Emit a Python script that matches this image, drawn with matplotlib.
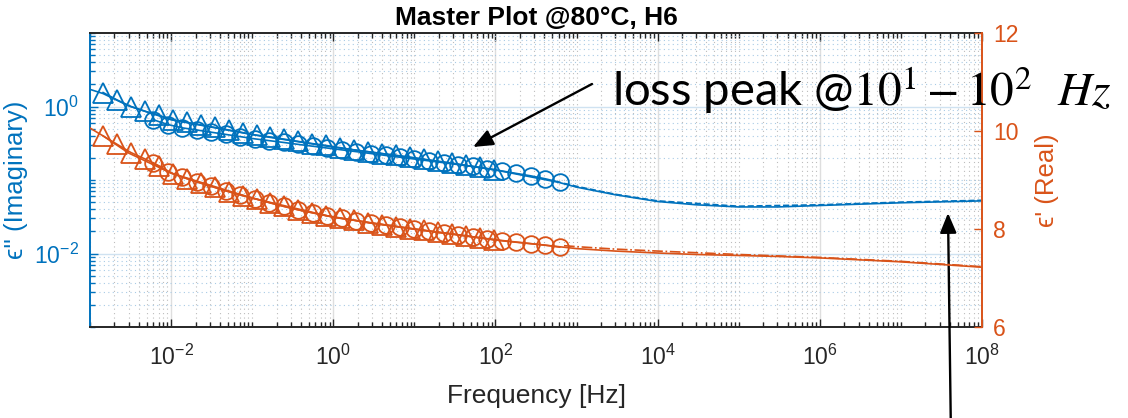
import numpy as np
import matplotlib
matplotlib.use("Agg")
from matplotlib import pyplot as plt
from matplotlib import ticker

plt.rcParams['font.family'] = ['Liberation Sans', 'DejaVu Sans']

BLUE = '#0072BD'
ORANGE = '#D95319'
DARK = '#262626'

# measured points, first set (triangles)
tri_freq = [0.00145, 0.00215, 0.0032, 0.00476, 0.00707, 0.0105, 0.0156, 0.0232, 0.0345,
            0.0513, 0.0762, 0.113, 0.168, 0.250, 0.372, 0.553, 0.821, 1.22, 1.81, 2.70,
            4.01, 5.96, 8.85, 13.2, 19.6, 29.1, 43.2, 64.2, 95.5]
tri_imag = [1.55, 1.23, 1.00, 0.861, 0.759, 0.661, 0.610, 0.562, 0.519, 0.479, 0.442,
            0.407, 0.385, 0.359, 0.335, 0.313, 0.295, 0.275, 0.257, 0.243, 0.229, 0.216,
            0.204, 0.191, 0.180, 0.170, 0.158, 0.148, 0.138]
tri_real = [9.90, 9.73, 9.56, 9.43, 9.29, 9.13, 9.03, 8.94, 8.85, 8.76, 8.68, 8.61, 8.53,
            8.46, 8.39, 8.33, 8.27, 8.22, 8.18, 8.13, 8.09, 8.05, 8.01, 7.97, 7.93, 7.90,
            7.86, 7.82, 7.78]

# measured points, second set (circles)
circ_freq = [0.00603, 0.0091, 0.0137, 0.0207, 0.0313, 0.0473, 0.0714, 0.108, 0.163,
             0.246, 0.372, 0.561, 0.847, 1.28, 1.93, 2.92, 4.41, 6.65, 10.0, 15.2, 22.9,
             34.6, 52.2, 78.9, 119, 180, 272, 410, 619]
circ_imag = [0.661, 0.569, 0.513, 0.479, 0.447, 0.417, 0.389, 0.363, 0.343, 0.324, 0.305,
             0.288, 0.272, 0.257, 0.243, 0.229, 0.216, 0.204, 0.193, 0.182, 0.172, 0.162,
             0.153, 0.143, 0.133, 0.123, 0.114, 0.104, 0.0933]
circ_real = [9.35, 9.17, 9.06, 8.96, 8.87, 8.78, 8.70, 8.62, 8.54, 8.46, 8.39, 8.33, 8.27,
             8.22, 8.17, 8.12, 8.08, 8.04, 8.00, 7.96, 7.92, 7.88, 7.84, 7.80, 7.76, 7.73,
             7.70, 7.67, 7.63]

# master curve (fit) over the whole range
fit_freq = [1e-3, 1.45e-3, 3e-3, 1e-2, 1e-1, 1e0, 1e1, 1e2, 6e2, 1e3, 3e3, 1e4, 3e4,
            1e5, 3e5, 1e6, 1e7, 1e8]
fit_imag = [1.71, 1.50, 1.02, 0.66, 0.415, 0.28, 0.20, 0.137, 0.093, 0.080, 0.063, 0.051,
            0.046, 0.043, 0.043, 0.045, 0.049, 0.052]
fit_real = [10.06, 9.90, 9.55, 9.14, 8.63, 8.24, 8.00, 7.78, 7.64, 7.60, 7.55, 7.51, 7.48,
            7.46, 7.44, 7.41, 7.33, 7.22]

# second fit, high frequency part only
fit2_freq = [7e2, 1e3, 3e3, 1e4, 1e5, 1e6, 1e7, 1e8]
fit2_imag = [0.090, 0.082, 0.064, 0.052, 0.044, 0.046, 0.050, 0.053]
fit2_real = [7.66, 7.64, 7.59, 7.55, 7.48, 7.42, 7.34, 7.23]

x_major = [1e-2, 1e0, 1e2, 1e4, 1e6, 1e8]
y_major = [1e-2, 1e0]
real_ticks = [6, 8, 10, 12]

fig = plt.figure(figsize=(11.28, 4.18), dpi=100)
ax1 = fig.add_axes([0.0798, 0.2177, 0.7908, 0.7033])
ax1.set_xscale('log')
ax1.set_yscale('log')

ax1.plot(fit_freq, fit_imag, color=BLUE, lw=1.2)
ax1.plot(fit2_freq, fit2_imag, color=BLUE, lw=1.2, ls='--')
ax1.plot(tri_freq, tri_imag, color=BLUE, lw=1.2, marker='^', ms=14, mfc='none', mew=1.3)
ax1.plot(circ_freq, circ_imag, color=BLUE, lw=1.2, marker='o', ms=12, mfc='none', mew=1.3)

ax1.set_xlim(1e-3, 1e8)
ax1.set_ylim(1e-3, 1e1)
ax1.xaxis.set_major_locator(ticker.FixedLocator(x_major))
ax1.xaxis.set_minor_locator(ticker.LogLocator(base=10, subs=np.arange(1, 10), numticks=100))
ax1.xaxis.set_major_formatter(ticker.LogFormatterSciNotation())
ax1.xaxis.set_minor_formatter(ticker.NullFormatter())
ax1.yaxis.set_major_locator(ticker.FixedLocator(y_major))
ax1.yaxis.set_minor_locator(ticker.LogLocator(base=10, subs=np.arange(1, 10), numticks=100))
ax1.yaxis.set_major_formatter(ticker.LogFormatterSciNotation())
ax1.yaxis.set_minor_formatter(ticker.NullFormatter())

ax1.grid(True, which='major', axis='x', color='#dedede', lw=1.0)
ax1.grid(True, which='major', axis='y', color='#cfe2f1', lw=1.0)
ax1.grid(True, which='minor', axis='x', color='#bdbdbd', ls=(0, (1, 3)), lw=0.8)
ax1.grid(True, which='minor', axis='y', color='#a9cbe6', ls=(0, (1, 3)), lw=0.8)
ax1.set_axisbelow(True)

ax1.tick_params(axis='x', which='both', direction='in', top=True, colors=DARK,
                labelsize=16.5, pad=13)
ax1.tick_params(axis='x', which='major', length=6, width=1.0)
ax1.tick_params(axis='x', which='minor', length=3.5, width=1.0)
ax1.tick_params(axis='y', which='both', direction='in', colors=BLUE, labelsize=16.5, pad=8)
ax1.tick_params(axis='y', which='major', length=6, width=1.0)
ax1.tick_params(axis='y', which='minor', length=3.5, width=1.0)
for s in ['top', 'bottom']:
    ax1.spines[s].set_color(DARK)
    ax1.spines[s].set_linewidth(1.4)
ax1.spines['left'].set_color(BLUE)
ax1.spines['left'].set_linewidth(1.4)
ax1.spines['right'].set_visible(False)

ax1.set_xlabel('Frequency [Hz]', fontsize=19, color=DARK, labelpad=10)
ax1.set_ylabel("\u03f5'' (Imaginary)", fontsize=18.5, color=BLUE, labelpad=4)
ax1.set_title('Master Plot @80°C, H6', fontsize=19, fontweight='bold', pad=6)

ax2 = ax1.twinx()
ax2.plot(fit_freq, fit_real, color=ORANGE, lw=1.2)
ax2.plot(fit2_freq, fit2_real, color=ORANGE, lw=1.2, ls='-.')
ax2.plot(tri_freq, tri_real, color=ORANGE, lw=1.2, marker='^', ms=14, mfc='none', mew=1.3)
ax2.plot(circ_freq, circ_real, color=ORANGE, lw=1.2, marker='o', ms=12, mfc='none', mew=1.3)
ax2.set_ylim(6, 12)
ax2.set_yticks(real_ticks)
ax2.tick_params(axis='y', direction='in', colors=ORANGE, labelsize=16.5, length=6, width=1.0, pad=8)
for s in ['left', 'top', 'bottom']:
    ax2.spines[s].set_visible(False)
ax2.spines['right'].set_color(ORANGE)
ax2.spines['right'].set_linewidth(1.4)
ax2.set_ylabel("\u03f5' (Real)", fontsize=18.5, color=ORANGE, labelpad=12)

# annotations
fig.text(612 / 1128, 1 - 90 / 418, r'loss peak @$10^1 - 10^2\;\;\, Hz$', fontsize=34,
         family=['Lato', 'DejaVu Sans'], math_fontfamily='stix', va='center', ha='left')
ax1.annotate('', xy=(473 / 1128, 1 - 147 / 418), xycoords='figure fraction',
             xytext=(592 / 1128, 1 - 84 / 418), textcoords='figure fraction',
             arrowprops=dict(arrowstyle='-|>,head_length=1.2,head_width=0.5',
                             color='black', lw=1.7, shrinkA=0, shrinkB=0),
             annotation_clip=False)
ax1.annotate('', xy=(948 / 1128, 1 - 213 / 418), xycoords='figure fraction',
             xytext=(951 / 1128, -0.05), textcoords='figure fraction',
             arrowprops=dict(arrowstyle='-|>,head_length=1.2,head_width=0.5',
                             color='black', lw=1.7, shrinkA=0, shrinkB=0),
             annotation_clip=False)

fig.savefig('out.png', dpi=100)
